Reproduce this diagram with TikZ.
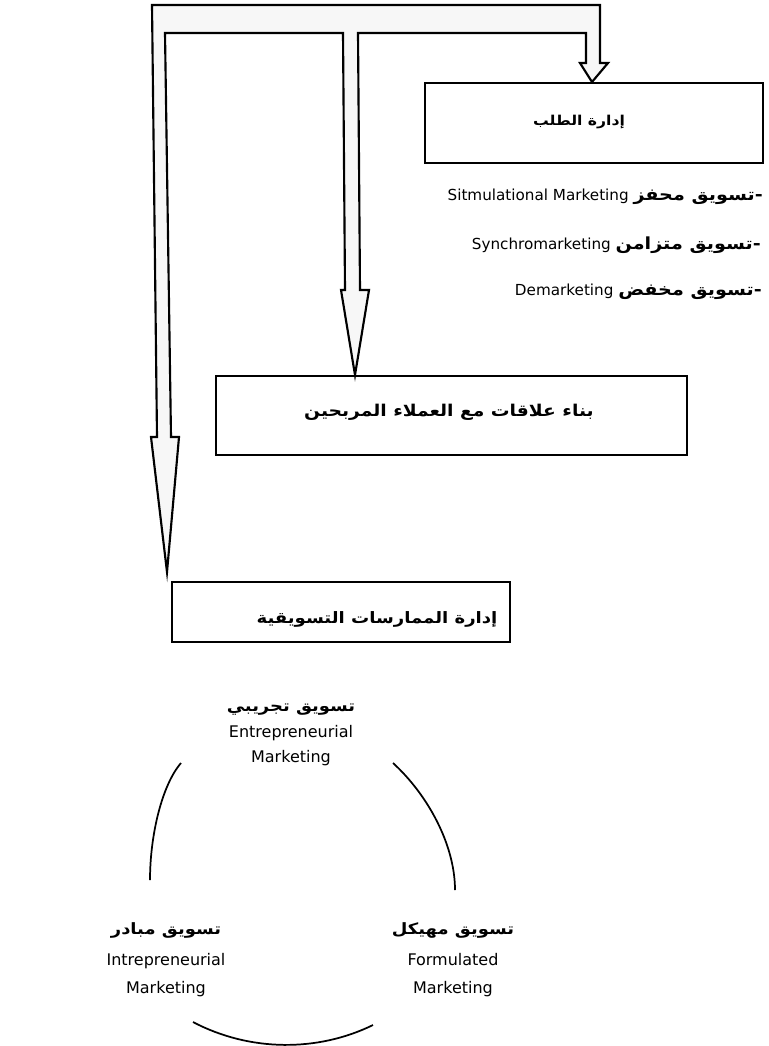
\documentclass[tikz,border=0pt]{standalone}
\usepackage{fontspec}
\setmainfont{DejaVu Sans}
\newfontfamily\arabicfont[Script=Arabic, FakeStretch=1.15]{DejaVu Sans}
\TeXXeTstate=1
\newcommand{\arsize}[1]{\fontsize{#1}{#1}\selectfont\arabicfont\bfseries}
\begin{document}
\begin{tikzpicture}[x=0.75pt,y=-0.75pt,
  boxst/.style={draw=black, line width=1.2pt, inner sep=0pt, fill=white},
  boxtext/.style={inner sep=0pt},
  lbl/.style={align=center, inner sep=0pt},
  listst/.style={anchor=east, font=\fontsize{11.4}{13}\selectfont, inner sep=0pt},
  arrowst/.style={draw=black, line width=1.6pt, fill=gray!6, line join=miter},
  arcst/.style={draw=black, line width=1.3pt}]
\useasboundingbox (0,0) rectangle (768,1046);

% boxes
\node[boxst, minimum width=253.5pt, minimum height=60pt] (demand) at (594,123) {};
\node[boxtext] (demandt) at (579,122) {\arsize{10.2}\beginR إدارة الطلب\endR};
\node[boxst, minimum width=353.25pt, minimum height=59.25pt] (rel) at (451.5,415.5) {};
\node[boxtext] (relt) at (449,412) {\arsize{12.2}\beginR بناء علاقات مع العملاء المربحين\endR};
\node[boxst, minimum width=253.5pt, minimum height=45pt] (prac) at (341,612) {};
\node[boxtext] (pract) at (377,619) {\arsize{11.8}\beginR إدارة الممارسات التسويقية\endR};

% hollow elbow arrow
\coordinate (tipA) at (592,82);
\coordinate (tipB) at (355,375);
\coordinate (tipC) at (167,572);
\draw[arrowst] (152,5) -- (600,5) -- (600,63) -- (608,63) -- (tipA) -- (580,63) -- (586,63)
  -- (586,33) -- (358,33) -- (360,290) -- (369,290) -- (tipB) -- (341,290) -- (345,290)
  -- (343,33) -- (165,33) -- (171,437) -- (179,437) -- (tipC) -- (151,437) -- (157,437)
  -- cycle;

% list
\node[listst] (l1) at (763,197) {\beginR{\arsize{12.5}-تسويق محفز} \beginL Sitmulational Marketing\endL\endR};
\node[listst] (l2) at (761,245) {\beginR{\arsize{12.5}-تسويق متزامن} \beginL Synchromarketing\endL\endR};
\node[listst] (l3) at (762,292) {\beginR{\arsize{12.5}-تسويق مخفض} \beginL Demarketing\endL\endR};

% cycle labels
\node[lbl, font=\fontsize{12}{19}\selectfont] (top) at (291,735)
  {{\arsize{11.7}\beginR تسويق تجريبي\endR}\\Entrepreneurial\\Marketing};
\node[lbl, font=\fontsize{12}{21}\selectfont] (right) at (453,960)
  {{\arsize{11.7}\beginR تسويق مهيكل\endR}\\[2pt]Formulated\\Marketing};
\node[lbl, font=\fontsize{12}{21}\selectfont] (left) at (166,960)
  {{\arsize{11.7}\beginR تسويق مبادر\endR}\\[2pt]Intrepreneurial\\Marketing};

% arcs
\coordinate (a1s) at (181,763); \coordinate (a1e) at (150,880);
\coordinate (a2s) at (393,763); \coordinate (a2e) at (455,890);
\coordinate (a3s) at (193,1022); \coordinate (a3e) at (373,1025);
\draw[arcst] (a1s) .. controls (162,785) and (150,835) .. (a1e);
\draw[arcst] (a2s) .. controls (428,795) and (455,845) .. (a2e);
\draw[arcst] (a3s) .. controls (250,1052) and (318,1052) .. (a3e);
\end{tikzpicture}
\end{document}
